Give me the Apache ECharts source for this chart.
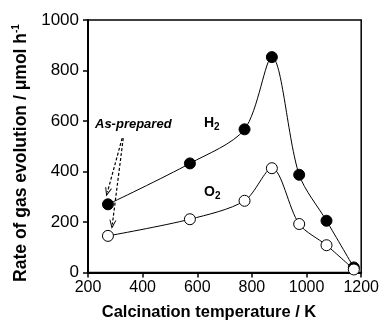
<!DOCTYPE html>
<html>
<head>
<meta charset="utf-8">
<script src="https://cdn.jsdelivr.net/npm/echarts@6/dist/echarts.min.js"></script>
<style>
  html, body { margin: 0; padding: 0; background: #fff; }
  #chart { width: 382px; height: 325px; }
</style>
</head>
<body>
<div id="chart"></div>
<script>
// Calcination temperatures (K) and gas evolution rates (µmol h^-1)
const temperatures = [273, 573, 773, 873, 973, 1073, 1173];
const h2Rates = [270, 432, 567, 853, 387, 205, 20];
const o2Rates = [145, 211, 284, 413, 192, 108, 12];

const xTicks = [200, 400, 600, 800, 1000, 1200];
const yTicks = [0, 200, 400, 600, 800, 1000];

// Dashed pointers from the "As-prepared" label to the first samples
const asPreparedArrows = [
  [[325, 532], [271, 318]],
  [[329, 532], [289, 190]]
];

const FONT = '"Liberation Sans", Arial, sans-serif';

const pairs = (ys) => temperatures.map((t, i) => [t, ys[i]]);

const chevron = 'path://M0,10 L5,0 L10,10 L8.6,10 L5,3.2 L1.4,10 Z';

const chart = echarts.init(document.getElementById('chart'), null, { renderer: 'canvas' });

chart.setOption({
  animation: false,
  backgroundColor: '#fff',
  grid: {
    left: 88, right: 20, top: 20, bottom: 52.5,
    show: true, borderColor: '#000', borderWidth: 1.5, backgroundColor: 'transparent'
  },
  xAxis: {
    type: 'value',
    min: xTicks[0], max: xTicks[xTicks.length - 1], interval: 200,
    axisLine: { show: true, onZero: false, lineStyle: { color: '#000', width: 2 } },
    axisTick: { show: true, inside: false, length: 5, lineStyle: { color: '#000', width: 1.5 } },
    axisLabel: { color: '#000', fontFamily: FONT, fontSize: 16, margin: 7, formatter: (v) => String(v) },
    splitLine: { show: false }
  },
  yAxis: {
    type: 'value',
    min: yTicks[0], max: yTicks[yTicks.length - 1], interval: 200,
    axisLine: { show: true, lineStyle: { color: '#000', width: 2 } },
    axisTick: { show: true, inside: false, length: 5, lineStyle: { color: '#000', width: 1.5 } },
    axisLabel: { color: '#000', fontFamily: FONT, fontSize: 17, margin: 9, formatter: (v) => String(v) },
    splitLine: { show: false }
  },
  series: [
    {
      name: 'H2',
      type: 'line',
      data: pairs(h2Rates),
      smooth: 0.3,
      symbol: 'circle',
      symbolSize: 11,
      itemStyle: { color: '#000', borderColor: '#000', borderWidth: 1 },
      lineStyle: { color: '#000', width: 1 },
      z: 2,
      markLine: {
        silent: true,
        symbol: ['none', chevron],
        symbolSize: [7, 9],
        label: { show: false },
        lineStyle: { color: '#000', width: 1.2, type: [3, 2] },
        data: asPreparedArrows.map(([a, b]) => [{ coord: a }, { coord: b }])
      }
    },
    {
      name: 'O2',
      type: 'line',
      data: pairs(o2Rates),
      smooth: 0.3,
      symbol: 'circle',
      symbolSize: 11,
      itemStyle: { color: '#fff', borderColor: '#000', borderWidth: 1 },
      lineStyle: { color: '#000', width: 1 },
      z: 3
    }
  ],
  graphic: [
    {
      type: 'text', left: 95, top: 118,
      style: { text: 'As-prepared', font: 'italic bold 13px ' + FONT, fill: '#000' }
    },
    {
      type: 'text', left: 204, top: 116,
      style: {
        text: '{m|H}{s|2}', fill: '#000',
        rich: {
          m: { font: 'bold 14px ' + FONT, fill: '#000' },
          s: { font: 'bold 10px ' + FONT, fill: '#000', padding: [8, 0, 0, 0] }
        }
      }
    },
    {
      type: 'text', left: 204, top: 185,
      style: {
        text: '{m|O}{s|2}', fill: '#000',
        rich: {
          m: { font: 'bold 14px ' + FONT, fill: '#000' },
          s: { font: 'bold 10px ' + FONT, fill: '#000', padding: [8, 0, 0, 0] }
        }
      }
    },
    {
      type: 'text', x: 209, y: 312,
      style: {
        text: 'Calcination temperature / K', font: 'bold 16.5px ' + FONT,
        fill: '#000', align: 'center', verticalAlign: 'middle'
      }
    },
    {
      type: 'text', x: 21, y: 153, rotation: Math.PI / 2,
      style: {
        text: '{m|Rate of gas evolution / μmol h}{s|-1}', fill: '#000',
        align: 'center', verticalAlign: 'middle',
        rich: {
          m: { font: 'bold 17.5px ' + FONT, fill: '#000' },
          s: { font: 'bold 10px ' + FONT, fill: '#000', padding: [0, 0, 10, 0] }
        }
      }
    }
  ]
});
</script>
</body>
</html>
